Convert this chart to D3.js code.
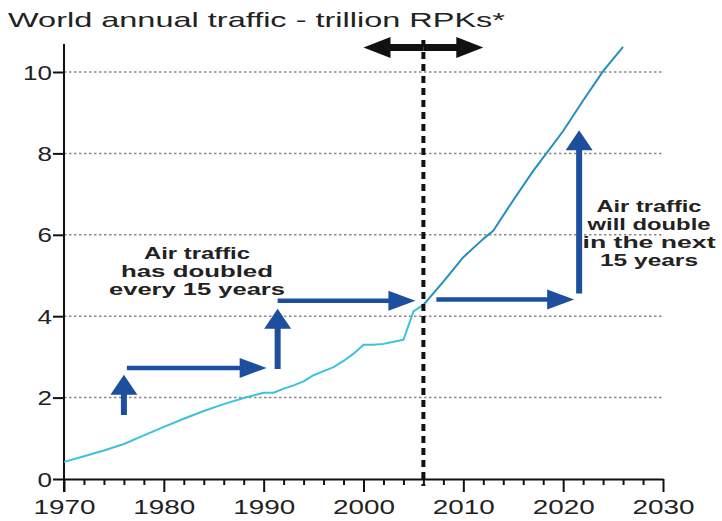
<!DOCTYPE html>
<html>
<head>
<meta charset="utf-8">
<script src="https://cdn.jsdelivr.net/npm/d3@7"></script>
<style>
  html, body { margin: 0; padding: 0; background: #fff; }
  svg { display: block; }
  text { font-family: "Liberation Sans", Arial, Helvetica, sans-serif; }
</style>
</head>
<body>
<svg id="chart" width="722" height="521"></svg>
<script>
// Historical traffic, trillion revenue passenger kilometres
const histYears  = [1970, 1972, 1974, 1976, 1978, 1980, 1982, 1984, 1986, 1988, 1990, 1991, 1992, 1993, 1994, 1995, 1996, 1997, 1998, 1999, 2000, 2001, 2002, 2003, 2004, 2005, 2006];
const histValues = [0.42, 0.56, 0.70, 0.86, 1.07, 1.28, 1.48, 1.67, 1.84, 1.99, 2.12, 2.12, 2.22, 2.30, 2.40, 2.55, 2.65, 2.75, 2.90, 3.08, 3.30, 3.30, 3.32, 3.37, 3.42, 4.12, 4.28];

// Forecast traffic
const forecastYears  = [2006, 2008, 2010, 2012, 2013, 2015, 2017, 2020, 2022, 2024, 2026];
const forecastValues = [4.28, 4.85, 5.45, 5.90, 6.10, 6.85, 7.57, 8.55, 9.30, 10.02, 10.62];

// Axes
const yTickValues = [0, 2, 4, 6, 8, 10];
const yGridValues = [2, 4, 6, 8, 10];
const xTickValues = d3.range(1970, 2031, 2);
const xTickLabels = [1970, 1980, 1990, 2000, 2010, 2020, 2030];

// Present year marker and the span arrow above it
const pivotYear = 2006;
const spanYears = [2000, 2012];
const spanLevel = 10.6;

// Doubling arrows, as (year, traffic) pairs
const arrowStarts = [[1976, 1.57], [1976.3, 2.73], [1991.4, 2.70], [1991.4, 4.38], [2007.3, 4.41], [2021.6, 4.56]];
const arrowEnds   = [[1976, 2.56], [1990.3, 2.73], [1991.4, 4.18], [2005.2, 4.38], [2021.1, 4.41], [2021.6, 8.57]];

// Notes
const titleText = "World annual traffic - trillion RPKs*";
const pastNote = ["Air traffic", "has doubled", "every 15 years"];
const pastNoteWidths = [106, 152, 176];
const futureNote = ["Air traffic", "will double", "in the next", "15 years"];
const futureNoteWidths = [105, 123, 133, 98];

const svg = d3.select("#chart");
const x = d3.scaleLinear().domain([1970, 2030]).range([64, 663]);
const y = d3.scaleLinear().domain([0, 10]).range([479, 72]);

// Title
svg.append("text")
  .attr("x", 8).attr("y", 27)
  .attr("font-size", 21)
  .attr("fill", "#222")
  .attr("textLength", 497)
  .attr("lengthAdjust", "spacingAndGlyphs")
  .text(titleText);

// Dotted gridlines
svg.append("g")
  .selectAll("line")
  .data(yGridValues)
  .join("line")
  .attr("x1", x(1970)).attr("x2", x(2030))
  .attr("y1", d => y(d)).attr("y2", d => y(d))
  .attr("stroke", "#8a8a8a")
  .attr("stroke-width", 1.5)
  .attr("stroke-dasharray", "2.5,2.5");

// X axis
const xAxis = svg.append("g")
  .attr("transform", `translate(0,${y(0)})`)
  .call(d3.axisBottom(x)
    .tickValues(xTickValues)
    .tickSize(6)
    .tickSizeOuter(0)
    .tickFormat(d => xTickLabels.includes(d) ? d : ""));
xAxis.select(".domain").attr("stroke", "#111").attr("stroke-width", 2);
xAxis.selectAll(".tick line")
  .attr("stroke", "#111").attr("stroke-width", 2)
  .attr("y2", d => xTickLabels.includes(d) ? 13 : 6);
xAxis.selectAll(".tick text")
  .attr("y", 35).attr("dy", 0)
  .attr("font-size", 19.5)
  .attr("fill", "#222")
  .attr("textLength", d => xTickLabels.includes(d) ? 62 : null)
  .attr("lengthAdjust", "spacingAndGlyphs");

// Y axis
const yAxis = svg.append("g")
  .attr("transform", `translate(${x(1970)},0)`)
  .call(d3.axisLeft(y)
    .tickValues(yTickValues)
    .tickSize(11)
    .tickPadding(1)
    .tickSizeOuter(0));
yAxis.select(".domain").remove();
yAxis.selectAll(".tick line").attr("stroke", "#111").attr("stroke-width", 2);
yAxis.selectAll(".tick text")
  .attr("font-size", 19.5)
  .attr("fill", "#222")
  .attr("dy", "0.36em")
  .attr("textLength", d => String(d).length * 14.5)
  .attr("lengthAdjust", "spacingAndGlyphs");
svg.append("line")
  .attr("x1", x(1970)).attr("x2", x(1970))
  .attr("y1", 44).attr("y2", y(0) + 13)
  .attr("stroke", "#111").attr("stroke-width", 2);

// Traffic lines
const line = d3.line().x(d => x(d[0])).y(d => y(d[1]));
svg.append("path")
  .datum(d3.zip(histYears, histValues))
  .attr("d", line)
  .attr("fill", "none")
  .attr("stroke", "#3cc1df")
  .attr("stroke-width", 2)
  .attr("stroke-linejoin", "round");
svg.append("path")
  .datum(d3.zip(forecastYears, forecastValues))
  .attr("d", line)
  .attr("fill", "none")
  .attr("stroke", "#238fbd")
  .attr("stroke-width", 2)
  .attr("stroke-linejoin", "round");

// Present year marker
svg.append("line")
  .attr("x1", x(pivotYear)).attr("x2", x(pivotYear))
  .attr("y1", 40).attr("y2", y(0) + 7)
  .attr("stroke", "#111")
  .attr("stroke-width", 4)
  .attr("stroke-dasharray", "7,5");

// Arrow outline: shaft of thickness t, head of length hl and half-width hw
function arrowPath(x0, y0, x1, y1, t, hl, hw) {
  const dx = x1 - x0, dy = y1 - y0;
  const len = Math.hypot(dx, dy);
  const ux = dx / len, uy = dy / len, nx = -uy, ny = ux;
  const bx = x1 - ux * hl, by = y1 - uy * hl;
  const pts = [
    [x0 + nx * t / 2, y0 + ny * t / 2],
    [bx + nx * t / 2, by + ny * t / 2],
    [bx + nx * hw, by + ny * hw],
    [x1, y1],
    [bx - nx * hw, by - ny * hw],
    [bx - nx * t / 2, by - ny * t / 2],
    [x0 - nx * t / 2, y0 - ny * t / 2]
  ];
  return "M" + pts.map(p => p.join(",")).join("L") + "Z";
}

// Span arrow, pointing both ways
const sy = y(spanLevel), sx0 = x(spanYears[0]), sx1 = x(spanYears[1]), sxm = (sx0 + sx1) / 2;
svg.append("path").attr("d", arrowPath(sxm, sy, sx0, sy, 7, 27, 10.5)).attr("fill", "#111");
svg.append("path").attr("d", arrowPath(sxm, sy, sx1, sy, 7, 27, 10.5)).attr("fill", "#111");

// Doubling arrows
svg.append("g")
  .selectAll("path")
  .data(d3.zip(arrowStarts, arrowEnds))
  .join("path")
  .attr("d", ([s, e]) => {
    const vertical = s[0] === e[0];
    return vertical
      ? arrowPath(x(s[0]), y(s[1]), x(e[0]), y(e[1]), 6, 20, 13.5)
      : arrowPath(x(s[0]), y(s[1]), x(e[0]), y(e[1]), 4.5, 27, 10);
  })
  .attr("fill", "#1d4f9e");

// Notes
function note(lines, widths, cx, y0) {
  svg.append("g")
    .selectAll("text")
    .data(lines)
    .join("text")
    .attr("x", cx)
    .attr("y", (d, i) => y0 + i * 18)
    .attr("text-anchor", "middle")
    .attr("font-size", 16)
    .attr("font-weight", "bold")
    .attr("fill", "#222")
    .attr("textLength", (d, i) => widths[i])
    .attr("lengthAdjust", "spacingAndGlyphs")
    .text(d => d);
}
note(pastNote, pastNoteWidths, 197, 259);
note(futureNote, futureNoteWidths, 649, 212);
</script>
</body>
</html>
